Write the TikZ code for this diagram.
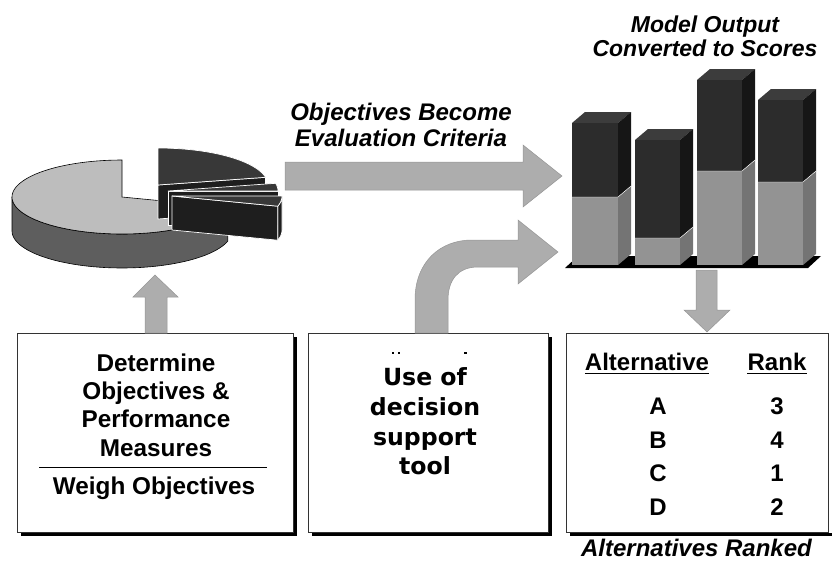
\documentclass[tikz,border=0pt]{standalone}
\usepackage{fontspec}
\setmainfont{Liberation Sans}
\newfontfamily\verdanalike{DejaVu Sans}
\usetikzlibrary{calc}
\definecolor{stip}{HTML}{ADADAD}
\definecolor{stipedge}{HTML}{959595}
\definecolor{pietop}{HTML}{BDBDBD}
\definecolor{pieside}{HTML}{5E5E5E}
\definecolor{slicetop}{HTML}{383838}
\definecolor{sliceside}{HTML}{1E1E1E}
\definecolor{bardark}{HTML}{2C2C2C}
\definecolor{bardarkside}{HTML}{161616}
\definecolor{bartopface}{HTML}{3C3C3C}
\definecolor{bargray}{HTML}{939393}
\definecolor{bargrayside}{HTML}{747474}
\tikzset{
  blockarrow/.style={fill=stip, draw=stipedge, line width=0.5pt},
  panel/.style={draw=black!80, line width=0.8pt, fill=white, inner sep=0pt},
  shadowline/.style={line width=3.5pt, black, line cap=rect},
  titletext/.style={font=\fontsize{23}{23.5}\selectfont\bfseries\itshape, align=center, inner sep=0pt},
  bigtitle/.style={font=\fontsize{24}{26}\selectfont\bfseries\itshape, align=center, inner sep=0pt},
  boxtext/.style={font=\fontsize{24.3}{28.3}\selectfont\bfseries, align=center, inner sep=0pt},
  tooltext/.style={font=\verdanalike\fontsize{23.6}{29.7}\selectfont\bfseries, align=center, inner sep=0pt},
  tabtext/.style={font=\fontsize{24}{26}\selectfont\bfseries, inner sep=0pt},
}
\newcommand\pcx{122}
\newcommand\pcy{197}
\newcommand\prx{110}
\newcommand\pry{37}
\newcommand\ph{34}
% slice: #1 ox, #2 oy, #3 low angle, #4 high angle
\newcommand\pieslice[4]{%
  \filldraw[fill=sliceside, draw=white, line width=0.7pt]
    ({\pcx+#1},{\pcy+#2}) -- ({\pcx+#1+\prx*cos(#3)},{\pcy+#2-\pry*sin(#3)})
    -- ({\pcx+#1+\prx*cos(#3)},{\pcy+#2-\pry*sin(#3)+\ph}) -- ({\pcx+#1},{\pcy+#2+\ph}) -- cycle;
  \filldraw[fill=slicetop, draw=white, line width=0.7pt]
    ({\pcx+#1},{\pcy+#2}) -- plot[domain=#3:#4, samples=40] ({\pcx+#1+\prx*cos(\x)},{\pcy+#2-\pry*sin(\x)}) -- cycle;
}
\newcommand\pieouter[4]{%
  \filldraw[fill=sliceside, draw=white, line width=0.7pt]
    plot[domain=#3:#4, samples=30] ({\pcx+#1+\prx*cos(\x)},{\pcy+#2-\pry*sin(\x)})
    -- plot[domain=#4:#3, samples=30] ({\pcx+#1+\prx*cos(\x)},{\pcy+#2-\pry*sin(\x)+\ph}) -- cycle;
}
% bar: #1 xl, #2 xr, #3 top, #4 split
\newcommand\barblock[4]{%
  \fill[bartopface] (#1,#3) -- (#1+13,#3-11) -- (#2+13,#3-11) -- (#2,#3) -- cycle;
  \fill[bardarkside] (#2,#3) -- (#2+13,#3-11) -- (#2+13,#4-11) -- (#2,#4) -- cycle;
  \fill[bargrayside] (#2,#4) -- (#2+13,#4-11) -- (#2+13,254) -- (#2,265) -- cycle;
  \fill[bardark] (#1,#3) rectangle (#2,#4);
  \fill[bargray] (#1,#4) rectangle (#2,265);
  \draw[white, line width=0.4pt] (#1,#4) -- (#2,#4) -- (#2+13,#4-11);
}
\begin{document}
\begin{tikzpicture}[x=1pt, y=-1pt]
\useasboundingbox (0,0) rectangle (833,563);

% ---------- pie ----------
\filldraw[fill=pieside, draw=black, line width=0.6pt]
  plot[domain=180:344, samples=60] ({\pcx+\prx*cos(\x)},{\pcy-\pry*sin(\x)})
  -- plot[domain=344:180, samples=60] ({\pcx+\prx*cos(\x)},{\pcy-\pry*sin(\x)+\ph}) -- cycle;
\filldraw[fill=pietop, draw=black, line width=0.6pt]
  (\pcx,\pcy) -- plot[domain=90:344, samples=80] ({\pcx+\prx*cos(\x)},{\pcy-\pry*sin(\x)}) -- cycle;
\coordinate (pie) at (\pcx,\pcy);
% exploded slices
\pieslice{36}{-12}{12}{90}
\pieslice{46}{-6}{0}{12}
\pieouter{50}{-1}{-16}{0}
\pieslice{50}{-1}{-16}{0}

% ---------- bar chart ----------
\fill[black] (565,268) -- (808,268) -- (821,256) -- (578,256) -- cycle;
\barblock{572}{618}{123}{197}
\barblock{635}{680}{140}{238}
\barblock{697}{742}{80}{171}
\barblock{758}{803}{100}{182}
\coordinate (chart) at (690,180);

\node[titletext] (modelout) at (705,36.5) {Model Output\\Converted to Scores};

% ---------- panels ----------
\node[panel, minimum width=276pt, minimum height=199pt] (box1) at (155,432.5) {};
\node[panel, minimum width=240pt, minimum height=199pt] (box2) at (428,432.5) {};
\node[panel, minimum width=262pt, minimum height=199pt] (box3) at (697,432.5) {};
\draw[shadowline] ($(box1.north east)+(2,6)$) -- ($(box1.south east)+(2,2)$) -- ($(box1.south west)+(6,2)$);
\draw[shadowline] ($(box2.north east)+(2,6)$) -- ($(box2.south east)+(2,2)$) -- ($(box2.south west)+(6,2)$);
\draw[shadowline] ($(box3.south east)+(2,2)$) -- ($(box3.south west)+(6,2)$);

% box 1 text
\node[boxtext] (determine) at (156,405) {Determine\\Objectives \&\\Performance\\Measures};
\draw[line width=1pt] (39,467) coordinate (sepL) -- (267,467) coordinate (sepR);
\node[boxtext] (weigh) at (154,488) {Weigh Objectives};

% box 2 text
\fill[black] (391.5,352) rectangle (393.5,353.5);
\fill[black] (397.5,352) rectangle (399.5,353.5);
\fill[black] (463.5,352) rectangle (467,353.5);
\node[tooltext] (tool) at (425,421.5) {Use of\\decision\\support\\tool};

% box 3 table
\node[tabtext, anchor=base] (althead) at (647,370) {Alternative};
\node[tabtext, anchor=base] (rankhead) at (777,370) {Rank};
\draw[line width=1.6pt] ($(althead.base west)+(0,3.5)$) -- ($(althead.base east)+(0,3.5)$);
\draw[line width=1.6pt] ($(rankhead.base west)+(0,3.5)$) -- ($(rankhead.base east)+(0,3.5)$);
\node[tabtext] (altA) at (658,406) {A};
\node[tabtext] (altB) at (658,440) {B};
\node[tabtext] (altC) at (658,473) {C};
\node[tabtext] (altD) at (658,507) {D};
\node[tabtext] (rkA) at (777,406) {3};
\node[tabtext] (rkB) at (777,440) {4};
\node[tabtext] (rkC) at (777,473) {1};
\node[tabtext] (rkD) at (777,507) {2};
\node[bigtitle] (ranked) at (696.5,548) {Alternatives Ranked};

% ---------- arrows ----------
% objectives -> evaluation criteria
\filldraw[blockarrow] (285,162) -- (523,162) -- (523,145) -- (562,176) -- (523,207) -- (523,190) -- (285,190) -- cycle;
\node[bigtitle] (objcrit) at (401,125) {Objectives Become\\Evaluation Criteria};
% up arrow into pie
\filldraw[blockarrow] (145,333) -- (145,297) -- (133,297) -- (155,275) -- (178,297) -- (167,297) -- (167,333) -- cycle;
% down arrow into table
\filldraw[blockarrow] (696,270) -- (717,270) -- (717,310) -- (730,310) -- (707,332) -- (684,310) -- (696,310) -- cycle;
% curved arrow from decision support tool
\filldraw[blockarrow] (415,333) -- (415,300) .. controls (415,262) and (440,240) .. (472,240)
  -- (518,240) -- (518,220) -- (558,252) -- (518,284) -- (518,267) -- (478,267)
  .. controls (458,267) and (448,280) .. (448,300) -- (448,333) -- cycle;
\end{tikzpicture}
\end{document}
